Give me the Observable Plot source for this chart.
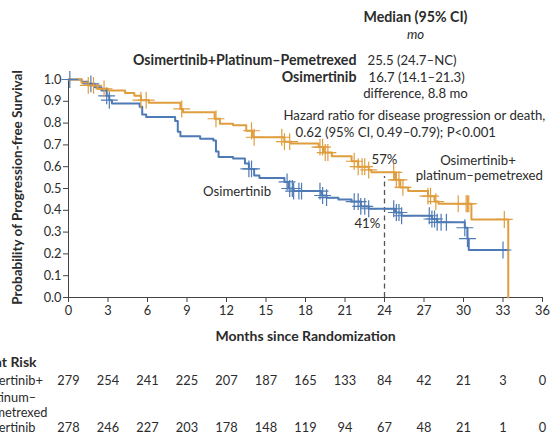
<!DOCTYPE html>
<html>
<head>
<meta charset="utf-8">
<script src="https://cdn.jsdelivr.net/npm/d3@7"></script>
<script src="https://cdn.jsdelivr.net/npm/@observablehq/plot@0.6"></script>
<style>
  html, body { margin: 0; padding: 0; background: #fff; overflow: hidden; }
  #chart svg { display: block; }
</style>
</head>
<body>
<div id="chart"></div>
<script>
// ---- Data ----
const monthTicks = [0, 3, 6, 9, 12, 15, 18, 21, 24, 27, 30, 33, 36];
const yTicks = [0, 0.1, 0.2, 0.3, 0.4, 0.5, 0.6, 0.7, 0.8, 0.9, 1.0];

const comboTime = [0, 1.0, 1.5, 2.2, 3.0, 4.3, 5.0, 5.5, 6.1, 8.5, 8.7, 11.1, 11.5, 12.5, 13.5, 14.0, 16.4, 16.9, 19.0, 19.4, 20.0, 21.5, 22.0, 22.8, 23.0, 24.8, 25.2, 25.8, 27.3, 27.8, 28.1, 30.6, 33.4];
const comboSurv = [1.0, 0.985, 0.973, 0.957, 0.95, 0.938, 0.925, 0.905, 0.893, 0.865, 0.85, 0.82, 0.797, 0.79, 0.765, 0.735, 0.715, 0.706, 0.69, 0.665, 0.648, 0.625, 0.60, 0.585, 0.574, 0.54, 0.505, 0.488, 0.465, 0.44, 0.43, 0.358, 0.0];
const comboCensor = [1.5, 1.9, 2.7, 5.5, 5.9, 8.6, 11.2, 13.9, 14.1, 16.2, 16.4, 16.8, 19.1, 19.3, 19.5, 19.7, 21.7, 22.0, 22.3, 22.5, 22.8, 24.7, 24.9, 25.1, 25.4, 27.3, 27.5, 27.9, 29.6, 30.2, 30.3, 30.4, 33.1];

const osiTime = [0, 1.0, 1.5, 2.0, 2.5, 2.9, 3.1, 3.3, 5.4, 5.6, 5.9, 8.1, 8.3, 8.5, 10.0, 11.0, 11.2, 11.4, 12.5, 13.4, 13.7, 14.1, 14.5, 16.4, 16.7, 17.1, 19.2, 19.6, 20.5, 21.5, 22.2, 22.8, 24.8, 25.3, 27.6, 28.0, 30.1, 30.3, 30.4, 33.4];
const osiSurv = [1.0, 0.99, 0.98, 0.965, 0.95, 0.925, 0.905, 0.89, 0.875, 0.84, 0.828, 0.81, 0.76, 0.74, 0.728, 0.72, 0.67, 0.645, 0.638, 0.615, 0.59, 0.56, 0.548, 0.53, 0.50, 0.488, 0.468, 0.458, 0.45, 0.44, 0.418, 0.407, 0.39, 0.375, 0.36, 0.345, 0.32, 0.27, 0.218, 0.218];
const osiCensor = [0.1, 1.7, 2.9, 3.1, 13.7, 13.9, 16.6, 16.8, 17.0, 17.1, 17.5, 17.7, 19.1, 19.3, 19.6, 21.7, 22.0, 22.2, 22.5, 22.8, 24.7, 24.9, 25.1, 25.3, 27.4, 27.6, 27.8, 28.0, 28.3, 28.7, 30.1, 30.3, 33.0];

const riskCombo = [279, 254, 241, 225, 207, 187, 165, 133, 84, 42, 21, 3, 0];
const riskOsi = [278, 246, 227, 203, 178, 148, 119, 94, 67, 48, 21, 1, 0];

const orange = "#E09D3E";
const blue = "#4E7AB5";
const ink = "#2b2b2b";

// ---- Build tables ----
const comboCurve = comboTime.map((t, i) => ({t, s: comboSurv[i]}));
const osiCurve = osiTime.map((t, i) => ({t, s: osiSurv[i]}));
function stepAt(times, surv, t) {
  let k = 0;
  for (let i = 0; i < times.length; i++) if (times[i] <= t) k = i;
  return surv[k];
}
const comboMarks = comboCensor.map(t => ({t, s: stepAt(comboTime, comboSurv, t)}));
const osiMarks = osiCensor.map(t => ({t, s: stepAt(osiTime, osiSurv, t)}));

const ML = 68, MT = 79, MB = 137, H = 434;
const FB = H - MB; // frame bottom
const note = (text, px, py, o = {}) => Plot.text([text], {
  frameAnchor: "top-left", dx: px - ML, dy: py - MT, text: d => d,
  textAnchor: "start", lineAnchor: "middle", fill: ink, fontSize: 13.2, ...o
});
const noteB = (text, px, py, o = {}) => Plot.text([text], {
  frameAnchor: "bottom-left", dx: px - ML, dy: py - FB, text: d => d,
  textAnchor: "start", lineAnchor: "middle", fill: ink, fontSize: 12.8, ...o
});

const chart = Plot.plot({
  width: 551,
  height: H,
  marginLeft: ML,
  marginRight: 9,
  marginTop: MT,
  marginBottom: MB,
  style: {fontFamily: "Lato, 'Open Sans', sans-serif", fontSize: "12.8px", color: ink, background: "#fff"},
  x: {domain: [0, 36]},
  y: {domain: [0, 1]},
  marks: [
    Plot.axisX({ticks: monthTicks, tickSize: 5, tickPadding: 3, tickFormat: d => String(d), label: null, stroke: "#444", fill: ink, fontSize: 12.8}),
    Plot.axisY({ticks: yTicks, tickSize: 5, tickPadding: 2, tickFormat: d3.format(".1f"), label: null, stroke: "#444", fill: ink, fontSize: 12.8}),
    Plot.ruleX([0], {stroke: "#444"}),
    Plot.ruleY([0], {stroke: "#444"}),
    Plot.ruleX([24], {y1: 0, y2: 0.555, stroke: "#555", strokeDasharray: "5,3.5", strokeWidth: 1.3}),
    Plot.line(osiCurve, {x: "t", y: "s", curve: "step-after", stroke: blue, strokeWidth: 2}),
    Plot.line(comboCurve, {x: "t", y: "s", curve: "step-after", stroke: orange, strokeWidth: 2}),
    Plot.dot(osiMarks, {x: "t", y: "s", symbol: "plus", r: 5.5, stroke: blue, strokeWidth: 1.2}),
    Plot.dot(comboMarks, {x: "t", y: "s", symbol: "plus", r: 5.5, stroke: orange, strokeWidth: 1.2}),
    // in-plot labels
    Plot.text(["57%"], {x: 24, y: 0.633, text: d => d, fill: ink, fontSize: 13.2}),
    Plot.text(["41%"], {x: 22.7, y: 0.34, text: d => d, fill: ink, fontSize: 13.2}),
    Plot.text(["Osimertinib+"], {x: 31.1, y: 0.628, text: d => d, fill: ink, fontSize: 13.2}),
    Plot.text(["platinum\u2013pemetrexed"], {x: 31.2, y: 0.56, text: d => d, fill: ink, fontSize: 13.2}),
    Plot.text(["Osimertinib"], {x: 12.8, y: 0.486, text: d => d, fill: ink, fontSize: 13.2}),
    // header block
    note("Median (95% CI)", 415, 17, {textAnchor: "middle", fontWeight: "bold", fontSize: 14.2}),
    note("mo", 415, 34, {textAnchor: "middle", fontStyle: "italic"}),
    note("Osimertinib+Platinum\u2013Pemetrexed", 356, 60, {textAnchor: "end", fontWeight: "bold", fontSize: 14.2}),
    note("25.5 (24.7\u2013NC)", 367, 60),
    note("Osimertinib", 356, 77, {textAnchor: "end", fontWeight: "bold", fontSize: 14.2}),
    note("16.7 (14.1\u201321.3)", 368, 77),
    note("difference, 8.8 mo", 415, 93, {textAnchor: "middle"}),
    note("Hazard ratio for disease progression or death,", 283, 115),
    note("0.62 (95% CI, 0.49\u20130.79); P<0.001", 295, 132),
    // y axis title
    Plot.text(["Probability of Progression-free Survival"], {frameAnchor: "left", dx: 17 - ML, dy: -1, rotate: -90, textAnchor: "middle", lineAnchor: "middle", text: d => d, fill: ink, fontWeight: "bold", fontSize: 13.5}),
    // x axis title
    Plot.text(["Months since Randomization"], {x: 18, frameAnchor: "bottom", dy: 39, lineAnchor: "middle", text: d => d, fill: ink, fontWeight: "bold", fontSize: 14}),
    // number at risk
    noteB("No. at Risk", -31, 362, {fontWeight: "bold", fontSize: 14}),
    noteB("Osimertinib+", -31, 380),
    noteB("platinum\u2013", -21, 397),
    noteB("pemetrexed", -20, 412),
    noteB("Osimertinib", -31, 427),
    Plot.text(riskCombo, {x: (d, i) => monthTicks[i], text: d => String(d), frameAnchor: "bottom", lineAnchor: "middle", dy: 380 - FB, fill: ink, fontSize: 12.8}),
    Plot.text(riskOsi, {x: (d, i) => monthTicks[i], text: d => String(d), frameAnchor: "bottom", lineAnchor: "middle", dy: 427 - FB, fill: ink, fontSize: 12.8})
  ]
});
document.getElementById("chart").appendChild(chart);
</script>
</body>
</html>
